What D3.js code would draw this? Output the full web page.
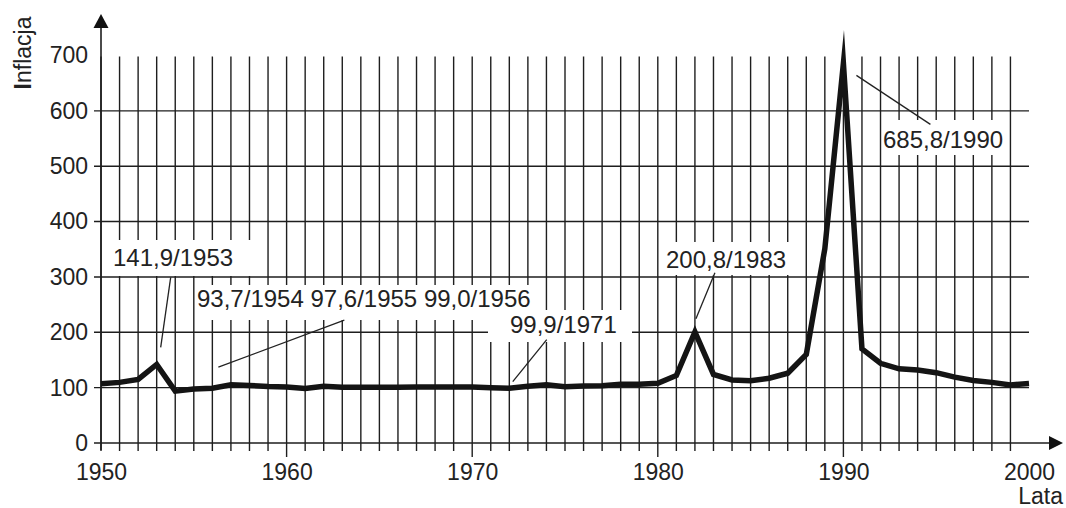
<!DOCTYPE html>
<html>
<head>
<meta charset="utf-8">
<script src="https://cdn.jsdelivr.net/npm/d3@7"></script>
<style>
  body { margin: 0; background: #fff; }
  svg text { font-family: "Liberation Sans", Arial, sans-serif; fill: #222; }
</style>
</head>
<body>
<div id="chart"></div>
<script>
// Data: inflation index (previous year = 100)
const years = d3.range(1950, 2001);
const inflation = [
  107.0, 109.5, 115.0, 141.9, 93.7, 97.6, 99.0, 105.0, 104.0, 102.0,
  101.0, 98.5, 102.7, 100.5, 100.5, 100.8, 100.8, 101.0, 101.0, 101.0,
  101.0, 99.9, 99.0, 102.5, 105.0, 101.6, 103.0, 103.5, 106.0, 106.0,
  108.0, 122.0, 200.8, 124.0, 114.0, 112.5, 117.0, 126.0, 160.0, 351.0,
  685.8, 170.0, 144.0, 134.0, 132.0, 127.0, 119.0, 113.0, 109.5, 105.0,
  107.5
];
const yTicks = [0, 100, 200, 300, 400, 500, 600, 700];
const yGridValues = [100, 200, 300, 400, 500, 600];
const xTickYears = [1950, 1960, 1970, 1980, 1990, 2000];
const longTickYears = [1960, 1970, 1980, 1990];
const gridYears = d3.range(1950, 2000);

// Annotation labels
const annotations = [
  { text: "141,9/1953", year: 1953, value: 141.9 },
  { text: "93,7/1954 97,6/1955 99,0/1956", year: 1956, value: 99.0 },
  { text: "99,9/1971", year: 1971, value: 99.9 },
  { text: "200,8/1983", year: 1982, value: 200.8 },
  { text: "685,8/1990", year: 1990, value: 685.8 }
];

const width = 1066;
const height = 508;

const svg = d3.select('#chart')
  .append('svg')
  .attr('width', width)
  .attr('height', height);

const x = d3.scaleLinear().domain([1950, 2000]).range([101, 1029]);
const y = d3.scaleLinear().domain([0, 700]).range([443, 55.5]);

const gridColor = '#1e1e1e';

// Vertical grid lines (one per year)
svg.append('g')
  .selectAll('line')
  .data(gridYears)
  .join('line')
  .attr('x1', d => x(d)).attr('x2', d => x(d))
  .attr('y1', y(700) + 1)
  .attr('y2', d => longTickYears.includes(d) ? 457 : 451)
  .attr('stroke', gridColor)
  .attr('stroke-width', 1.4);

// Horizontal grid lines
svg.append('g')
  .selectAll('line')
  .data(yGridValues)
  .join('line')
  .attr('x1', 94).attr('x2', x(2000))
  .attr('y1', d => y(d)).attr('y2', d => y(d))
  .attr('stroke', gridColor)
  .attr('stroke-width', 1.4);

// Axes lines with arrows
svg.append('line')
  .attr('x1', 94).attr('x2', 1052)
  .attr('y1', y(0)).attr('y2', y(0))
  .attr('stroke', gridColor).attr('stroke-width', 1.6);
svg.append('path')
  .attr('d', `M1063,${y(0)} L1049,${y(0) - 7} L1049,${y(0) + 7} Z`)
  .attr('fill', '#111');

svg.append('line')
  .attr('x1', x(1950)).attr('x2', x(1950))
  .attr('y1', y(0) + 7).attr('y2', 26)
  .attr('stroke', gridColor).attr('stroke-width', 1.6);
svg.append('path')
  .attr('d', `M${x(1950)},14 L${x(1950) - 7.5},28 L${x(1950) + 7.5},28 Z`)
  .attr('fill', '#111');

// Y tick labels
svg.append('g')
  .attr('transform', 'translate(94,0)')
  .call(d3.axisLeft(y).tickValues(yTicks).tickSize(0).tickPadding(6))
  .call(g => g.select('.domain').remove())
  .call(g => g.selectAll('text')
    .style('font-size', '23px')
    .style('font-family', '"Liberation Sans", Arial, sans-serif')
    .attr('fill', '#222'));

// X tick labels
svg.append('g')
  .attr('transform', `translate(0,${y(0)})`)
  .call(d3.axisBottom(x).tickValues(xTickYears).tickFormat(d3.format('d')).tickSize(0).tickPadding(21))
  .call(g => g.select('.domain').remove())
  .call(g => g.selectAll('text')
    .style('font-size', '23px')
    .style('font-family', '"Liberation Sans", Arial, sans-serif')
    .attr('fill', '#222'));

// Axis titles
const yTitle = svg.append('text')
  .attr('transform', 'translate(31,53) rotate(-90)')
  .attr('text-anchor', 'middle')
  .style('font-size', '23px');
yTitle.append('tspan').attr('font-weight', 'bold').text('I');
yTitle.append('tspan').text('nflacja');

svg.append('text')
  .attr('x', 1063).attr('y', 504)
  .attr('text-anchor', 'end')
  .style('font-size', '23px')
  .text('Lata');

// Data line
const line = d3.line()
  .x((d, i) => x(years[i]))
  .y(d => y(d));

svg.append('path')
  .datum(inflation)
  .attr('d', line)
  .attr('fill', 'none')
  .attr('stroke', '#141414')
  .attr('stroke-width', 5.5)
  .attr('stroke-linejoin', 'miter')
  .attr('stroke-miterlimit', 20);

// Annotation layout: box, text origin and pointer offsets from the data point
const annoLayout = [
  { box: [103, 240, 149, 36], tx: 113, ty: 266, p: [14, -87, 4, -17] },
  { box: [196, 285, 348, 35], tx: 197, ty: 307, p: [132, -68, 6, -21] },
  { box: [488, 310, 144, 32], tx: 510, ty: 333, p: [56, -48, 22, -6] },
  { box: [660, 242, 143, 33], tx: 666, ty: 268, p: [20, -59, 1, -13] },
  { box: [882, 120, 124, 35], tx: 883, ty: 148, p: [87, 61, 13, 12] }
];

const annoG = svg.append('g');
annotations.forEach((a, i) => {
  const L = annoLayout[i];
  const px = x(a.year), py = y(a.value);
  annoG.append('rect')
    .attr('x', L.box[0]).attr('y', L.box[1])
    .attr('width', L.box[2]).attr('height', L.box[3])
    .attr('fill', '#fff');
  annoG.append('line')
    .attr('x1', px + L.p[0]).attr('y1', py + L.p[1])
    .attr('x2', px + L.p[2]).attr('y2', py + L.p[3])
    .attr('stroke', '#222')
    .attr('stroke-width', 1.3);
  annoG.append('text')
    .attr('x', L.tx).attr('y', L.ty)
    .style('font-size', '24px')
    .text(a.text);
});
</script>
</body>
</html>
